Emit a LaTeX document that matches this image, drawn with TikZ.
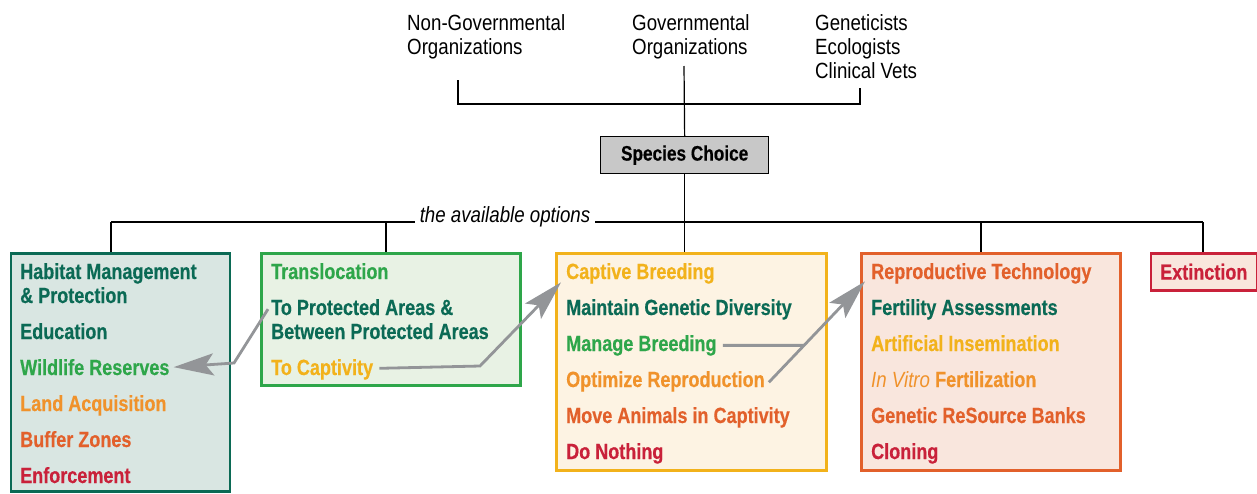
\documentclass[tikz,border=0pt]{standalone}
\usepackage{fontspec}
\setmainfont[FakeStretch=0.85, BoldFeatures={FakeStretch=0.82, FakeBold=0.4}]{Liberation Sans}
\usetikzlibrary{arrows.meta}
\definecolor{cteal}{HTML}{0B6A55}
\definecolor{cgreen}{HTML}{2EA64A}
\definecolor{cyellow}{HTML}{F2B21B}
\definecolor{corange}{HTML}{F0922B}
\definecolor{cored}{HTML}{E2602B}
\definecolor{cred}{HTML}{C9213A}
\definecolor{cgray}{HTML}{939598}
\definecolor{fillA}{HTML}{D9E6E2}
\definecolor{fillB}{HTML}{E8F2E4}
\definecolor{fillC}{HTML}{FDF3E3}
\definecolor{fillD}{HTML}{F9E6DD}
\definecolor{fillS}{HTML}{C8C8C8}
\begin{document}
\begin{tikzpicture}[x=1pt,y=-1pt,
  toptext/.style={anchor=base west, inner sep=0pt, font=\fontsize{22}{24}\selectfont},
  item/.style={anchor=base west, inner sep=0pt, font=\bfseries\fontsize{22}{24}\selectfont},
  optbox/.style={draw, line width=2.6pt, anchor=north west, inner sep=0pt},
  link/.style={line width=1.2pt, draw=black},
  garrow/.style={draw=cgray, line width=2.8pt, -{Stealth[length=40pt,width=22pt,inset=8pt]}},
  gline/.style={draw=cgray, line width=2.8pt}]
\useasboundingbox (0,0) rectangle (1257,493);

% top texts
\node[toptext] (ngoA) at (407,30) {Non-Governmental};
\node[toptext] (ngoB) at (407,54) {Organizations};
\node[toptext] (goA) at (632,30) {Governmental};
\node[toptext] (goB) at (632,54) {Organizations};
\node[toptext] (genA) at (815,30) {Geneticists};
\node[toptext] (genB) at (815,54) {Ecologists};
\node[toptext] (genC) at (815,78) {Clinical Vets};

\coordinate (gL) at (458,80);
\coordinate (gC) at (684,66);
\coordinate (gR) at (860,88);
\coordinate (gJ) at (684,104);

% species choice
\node[draw, line width=1.3pt, fill=fillS, anchor=north west, minimum width=168pt, minimum height=37pt, inner sep=0pt,
      font=\bfseries\fontsize{21}{24}\selectfont] (species) at (600,136) {Species Choice};

\draw[link] (gL) |- (gJ) -| (gR);
\draw[link] (gC) -- (species.north);

% option boxes
\node[optbox, draw=cteal, fill=fillA, minimum width=219pt, minimum height=238pt] (b1) at (9.5,252) {};
\node[optbox, draw=cgreen, fill=fillB, minimum width=259pt, minimum height=132pt] (b2) at (260,252) {};
\node[optbox, draw=cyellow, fill=fillC, minimum width=270pt, minimum height=217pt] (b3) at (555,252) {};
\node[optbox, draw=cored, fill=fillD, minimum width=259pt, minimum height=217pt] (b4) at (860,252) {};
\node[optbox, draw=cred, fill=fillD, minimum width=106pt, minimum height=37pt] (b5) at (1149.5,252) {};

% available options line
\node[anchor=base, inner xsep=5pt, inner ysep=0pt, font=\itshape\fontsize{22}{24}\selectfont] (opts) at (505,222) {the available options};
\coordinate (hL) at (111,222);
\coordinate (hR) at (1203,222);
\coordinate (d2) at (386,222);
\coordinate (d4) at (981,222);
\draw[link] (hL) -- (opts.base west);
\draw[link] (opts.base east) -- (hR);
\draw[link] (species.south) -- (species.south |- b3.north);
\draw[link] (hL) -- (hL |- b1.north);
\draw[link] (d2) -- (d2 |- b2.north);
\draw[link] (d4) -- (d4 |- b4.north);
\draw[link] (hR) -- (hR |- b5.north);

% box 1
\node[item, text=cteal] (hm) at (20,279) {Habitat Management};
\node[item, text=cteal] (hp) at (20,303) {\& Protection};
\node[item, text=cteal] (ed) at (20,339) {Education};
\node[item, text=cgreen] (wr) at (20,375) {Wildlife Reserves};
\node[item, text=corange] (la) at (20,411) {Land Acquisition};
\node[item, text=cored] (bz) at (20,447) {Buffer Zones};
\node[item, text=cred] (en) at (20,483) {Enforcement};

% box 2
\node[item, text=cgreen] (tl) at (271,279) {Translocation};
\node[item, text=cteal] (tpa) at (271,315) {To Protected Areas \&};
\node[item, text=cteal] (bpa) at (271,339) {Between Protected Areas};
\node[item, text=cyellow] (tc) at (271,375) {To Captivity};

% box 3
\node[item, text=cyellow] (cb) at (566,279) {Captive Breeding};
\node[item, text=cteal] (mg) at (566,315) {Maintain Genetic Diversity};
\node[item, text=cgreen] (mb) at (566,351) {Manage Breeding};
\node[item, text=corange] (opt) at (566,387) {Optimize Reproduction};
\node[item, text=cored] (ma) at (566,423) {Move Animals in Captivity};
\node[item, text=cred] (dn) at (566,459) {Do Nothing};

% box 4
\node[item, text=cored] (rt) at (871,279) {Reproductive Technology};
\node[item, text=cteal] (fa) at (871,315) {Fertility Assessments};
\node[item, text=cyellow] (ai) at (871,351) {Artificial Insemination};
\node[item, text=corange] (ivf) at (871,387) {{\mdseries\itshape In Vitro} Fertilization};
\node[item, text=cored] (grb) at (871,423) {Genetic ReSource Banks};
\node[item, text=cred] (cl) at (871,459) {Cloning};

% box 5
\node[anchor=center, inner sep=0pt, text=cred, font=\bfseries\fontsize{22}{24}\selectfont] (ex) at (b5.center) {Extinction};

% gray arrows
\coordinate (aBend) at (234,363);
\draw[garrow] ([xshift=-3pt,yshift=-2pt]tpa.west) -- (aBend) -- ([xshift=4pt]wr.east);
\coordinate (bBend) at (480,366);
\draw[garrow] ([xshift=6pt,yshift=1pt]tc.east) -- (bBend) -- ([xshift=-5pt,yshift=-9pt]cb.west);
\coordinate (oA) at ([xshift=4pt,yshift=-1pt]opt.east);
\coordinate (oB) at ([xshift=-6pt,yshift=-8pt]rt.west);
\coordinate (mA) at ([xshift=6pt]mb.east);
\coordinate (mFar) at ([xshift=150pt]mA);
\draw[gline] (mA) -- (intersection of oA--oB and mA--mFar);
\draw[garrow] (oA) -- (oB);
\end{tikzpicture}
\end{document}
